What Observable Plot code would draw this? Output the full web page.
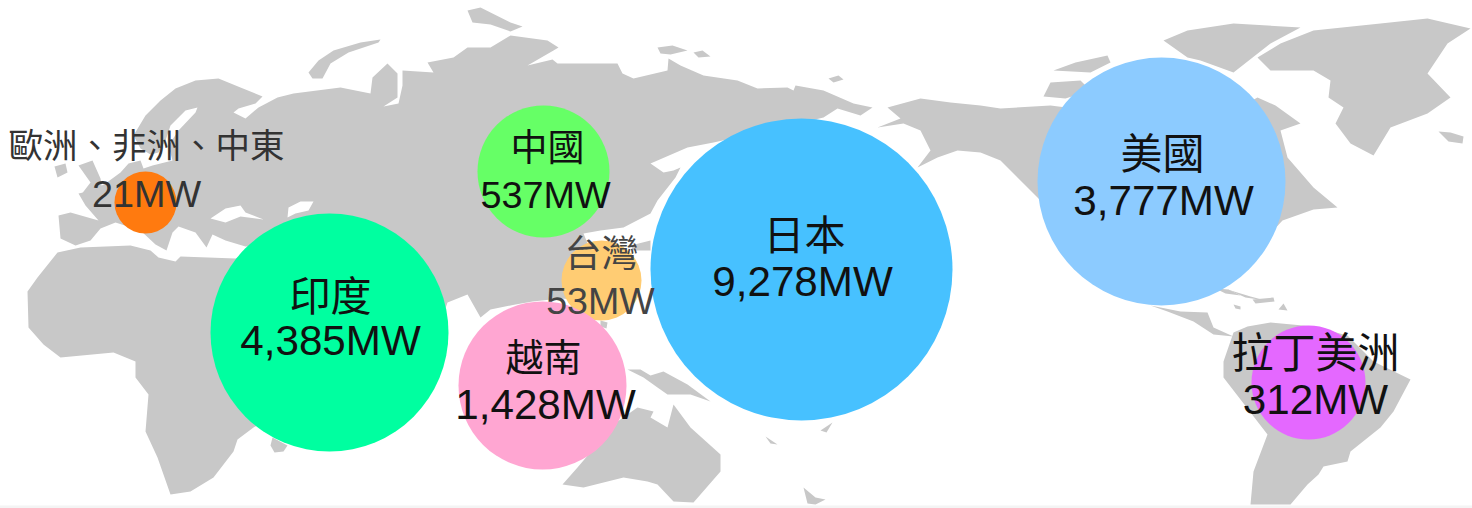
<!DOCTYPE html>
<html><head><meta charset="utf-8">
<script src="https://cdn.jsdelivr.net/npm/d3@7"></script>
<script src="https://cdn.jsdelivr.net/npm/@observablehq/plot@0.6"></script>
<style>html,body{margin:0;padding:0;background:#fff;overflow:hidden}svg{display:block}</style>
</head><body><div id="chart"></div>
<script>
// Bubble data
const regions = ["歐洲、非洲、中東","中國","台灣","越南","印度","日本","美國","拉丁美洲"];
const megawatts = [21,537,53,1428,4385,9278,3777,312];
const valueLabels = ["21MW","537MW","53MW","1,428MW","4,385MW","9,278MW","3,777MW","312MW"];
const bubbleMapX = [145,543,601,542,329,801,1161,1308];
const bubbleMapY = [202,171,280,385,332,269,181,382];
const regionColors = ["#FF7A0F","#66FF66","#FFCC73","#FFA6D2","#00FFA0","#47C1FF","#8CCBFF","#E468FF"];
const nameMapX = [146,547,601,543,330,804,1162,1315];
const nameMapY = [146,149,255,358,297,236,155,354];
const valueMapX = [146,545,600,545,330,802,1163,1315];
const valueMapY = [194,195,301,405,341,282,201,400];
const nameSizes = [34.5,37,37,38,41,41,42,42];
const valueSizes = [37.8,37.8,37.6,42.2,42.2,42.2,42.2,42.2];
const textColors = ["#333","#111","#444","#111","#111","#111","#111","#111"];

// Land outlines, on the picture's map grid
const land = {
 eurasia:[[60,238],[58,215],[70,212],[98,220],[85,205],[78,193],[92,190],[105,183],[120,172],[128,163],[140,160],[143,168],[152,165],[172,160],[168,145],[178,130],[195,112],[197,107],[185,110],[170,125],[165,140],[158,152],[150,154],[140,148],[133,135],[145,115],[160,100],[175,88],[195,80],[218,78],[240,87],[262,96],[255,103],[238,108],[233,112],[245,118],[258,107],[277,97],[293,93],[340,87],[370,93],[372,77],[387,63],[397,73],[397,97],[383,106],[398,103],[402,85],[402,70],[433,72],[427,62],[453,57],[467,47],[490,47],[510,35],[547,40],[558,47],[553,50],[527,65],[552,59],[557,63],[597,63],[617,63],[622,73],[633,78],[667,70],[668,58],[680,65],[703,75],[737,80],[757,88],[787,87],[793,90],[795,85],[823,90],[853,103],[872,107],[860,115],[837,108],[823,117],[790,125],[713,142],[687,147],[650,163],[663,172],[673,170],[680,167],[675,177],[657,200],[650,213],[623,227],[600,230],[583,233],[590,250],[610,270],[590,300],[560,298],[532,301],[515,304],[490,309],[480,317],[467,294],[447,302],[420,380],[340,340],[290,280],[270,245],[245,246],[225,240],[212,234],[206,247],[195,232],[178,226],[172,232],[166,250],[155,244],[140,230],[115,222],[100,228],[90,240],[75,245]],
 africa:[[57,252],[80,247],[130,245],[150,250],[158,257],[175,261],[180,256],[235,258],[260,245],[300,300],[300,400],[253,427],[237,439],[233,451],[213,477],[190,491],[170,494],[157,457],[145,431],[148,394],[135,377],[135,361],[113,352],[60,357],[43,344],[28,327],[27,291],[37,277]],
 madagascar:[[272,437],[287,445],[283,451],[274,452],[270,445]],
 ireland:[[54,166],[65,163],[67,172],[57,177]],
 britain:[[78,165],[92,160],[100,178],[102,190],[80,195],[90,182]],
 novayaZemlya:[[308,72],[318,60],[333,50],[360,42],[380,39],[378,42],[348,52],[330,63],[322,78],[312,78]],
 svalbard:[[467,10],[480,7],[490,12],[510,22],[522,26],[510,31],[490,24],[472,22]],
 severnaya:[[657,47],[672,45],[687,50],[670,54],[660,53]],
 severnaya2:[[693,52],[702,50],[710,56],[698,57]],
 wrangel:[[828,78],[838,75],[843,79],[833,82]],
 japan:[[630,245],[650,240],[650,250],[633,250]],
 philippines:[[600,320],[607,322],[606,328],[600,326]],
 newGuinea:[[627,369],[640,369],[650,375],[663,371],[687,384],[710,401],[690,394],[667,394],[657,387],[643,377]],
 australia:[[562,484],[577,467],[600,440],[617,421],[637,407],[653,411],[650,417],[667,427],[673,404],[690,427],[720,454],[720,471],[693,502],[673,501],[657,484],[647,481],[623,477],[583,487]],
 newZealand:[[803,487],[815,497],[825,499],[815,504],[807,503]],
 newCaledonia:[[820,430],[832,422],[826,432]],
 fiji:[[765,436],[777,444],[770,443]],
 alaska:[[887,107],[920,98],[950,102],[980,105],[1000,108],[1050,105],[1090,110],[1200,200],[1090,250],[1023,183],[1000,160],[980,152],[957,150],[937,157],[917,167],[930,150],[920,130],[903,123],[877,127],[900,118]],
 canadaEast:[[1257,97],[1275,105],[1300,123],[1280,130],[1287,157],[1313,187],[1337,207],[1313,209],[1282,220],[1245,260],[1215,285],[1170,290],[1160,150]],
 banks:[[1053,70],[1075,62],[1107,55],[1110,62],[1090,72]],
 victoria:[[1043,96],[1050,82],[1080,80],[1090,90],[1065,98]],
 baffin:[[1163,40],[1187,30],[1233,23],[1300,27],[1270,43],[1233,72],[1200,60],[1187,57]],
 greenland:[[1257,57],[1280,43],[1313,30],[1380,23],[1427,18],[1470,28],[1447,43],[1427,73],[1450,97],[1427,113],[1390,127],[1373,155],[1350,143],[1335,123],[1343,107],[1328,97],[1330,80],[1313,70],[1270,70]],
 iceland:[[1438,131],[1450,132],[1463,136],[1462,143],[1448,141]],
 centralAmerica:[[1150,305],[1180,311],[1207,312],[1213,327],[1233,336],[1213,334],[1193,321],[1167,311]],
 gulfCoast:[[1215,288],[1228,289],[1240,295],[1225,293]],
 cuba:[[1227,289],[1250,296],[1265,300],[1245,297]],
 hispaniola:[[1252,299],[1273,297],[1274,301],[1255,303]],
 jamaica:[[1233,304],[1240,306],[1240,309],[1235,308]],
 puertoRico:[[1278,309],[1283,303],[1287,310]],
 southAmerica:[[1233,332],[1247,326],[1270,322],[1313,326],[1347,335],[1373,361],[1410,379],[1393,411],[1380,427],[1350,451],[1347,461],[1323,466],[1318,474],[1307,484],[1290,504],[1250,504],[1253,471],[1267,434],[1223,377],[1223,361]]
};
const inlandWater = {
 blackSea:[[210,218],[225,208],[240,205],[245,212],[263,219],[240,216],[225,222]],
 caspian:[[288,207],[300,201],[313,201],[308,210],[295,213],[287,217]]
};
const toRows = obj => Object.entries(obj).flatMap(([shape,pts]) => pts.map(([x,y]) => ({shape,x,y})));

const rows = regions.map((name,i) => ({
  name, mw:megawatts[i], label:valueLabels[i], x:bubbleMapX[i], y:bubbleMapY[i],
  nx:nameMapX[i], ny:nameMapY[i], vx:valueMapX[i], vy:valueMapY[i],
  ns:nameSizes[i], vs:valueSizes[i], tc:textColors[i]
}));
const fontFamily = "'Liberation Sans','Noto Sans CJK TC',sans-serif";

const chart = Plot.plot({
  width:1472, height:508, margin:0,
  x:{domain:[0,1472],axis:null},
  y:{domain:[508,0],axis:null},
  r:{type:"linear",domain:[21,53,312,537,1428,3777,4385,9278],range:[31,40,57,66,84,124,119,151]},
  color:{type:"ordinal",domain:regions,range:regionColors},
  style:{background:"#fff"},
  marks:[
    Plot.line(toRows(land),{x:"x",y:"y",z:"shape",fill:"#C8C8C8",stroke:"none",curve:"linear-closed"}),
    Plot.line(toRows(inlandWater),{x:"x",y:"y",z:"shape",fill:"#fff",stroke:"none",curve:"linear-closed"}),
    Plot.ruleY([506.5],{stroke:"#F4F4F4",strokeWidth:3}),
    Plot.dot(rows,{x:"x",y:"y",r:"mw",fill:"name",stroke:"none",sort:null}),
    Plot.text(rows,{x:"nx",y:"ny",text:"name",fontSize:"ns",fill:"tc",fontFamily}),
    Plot.text(rows,{x:"vx",y:"vy",text:"label",fontSize:"vs",fill:"tc",fontFamily})
  ]
});
document.getElementById("chart").append(chart);
</script></body></html>
